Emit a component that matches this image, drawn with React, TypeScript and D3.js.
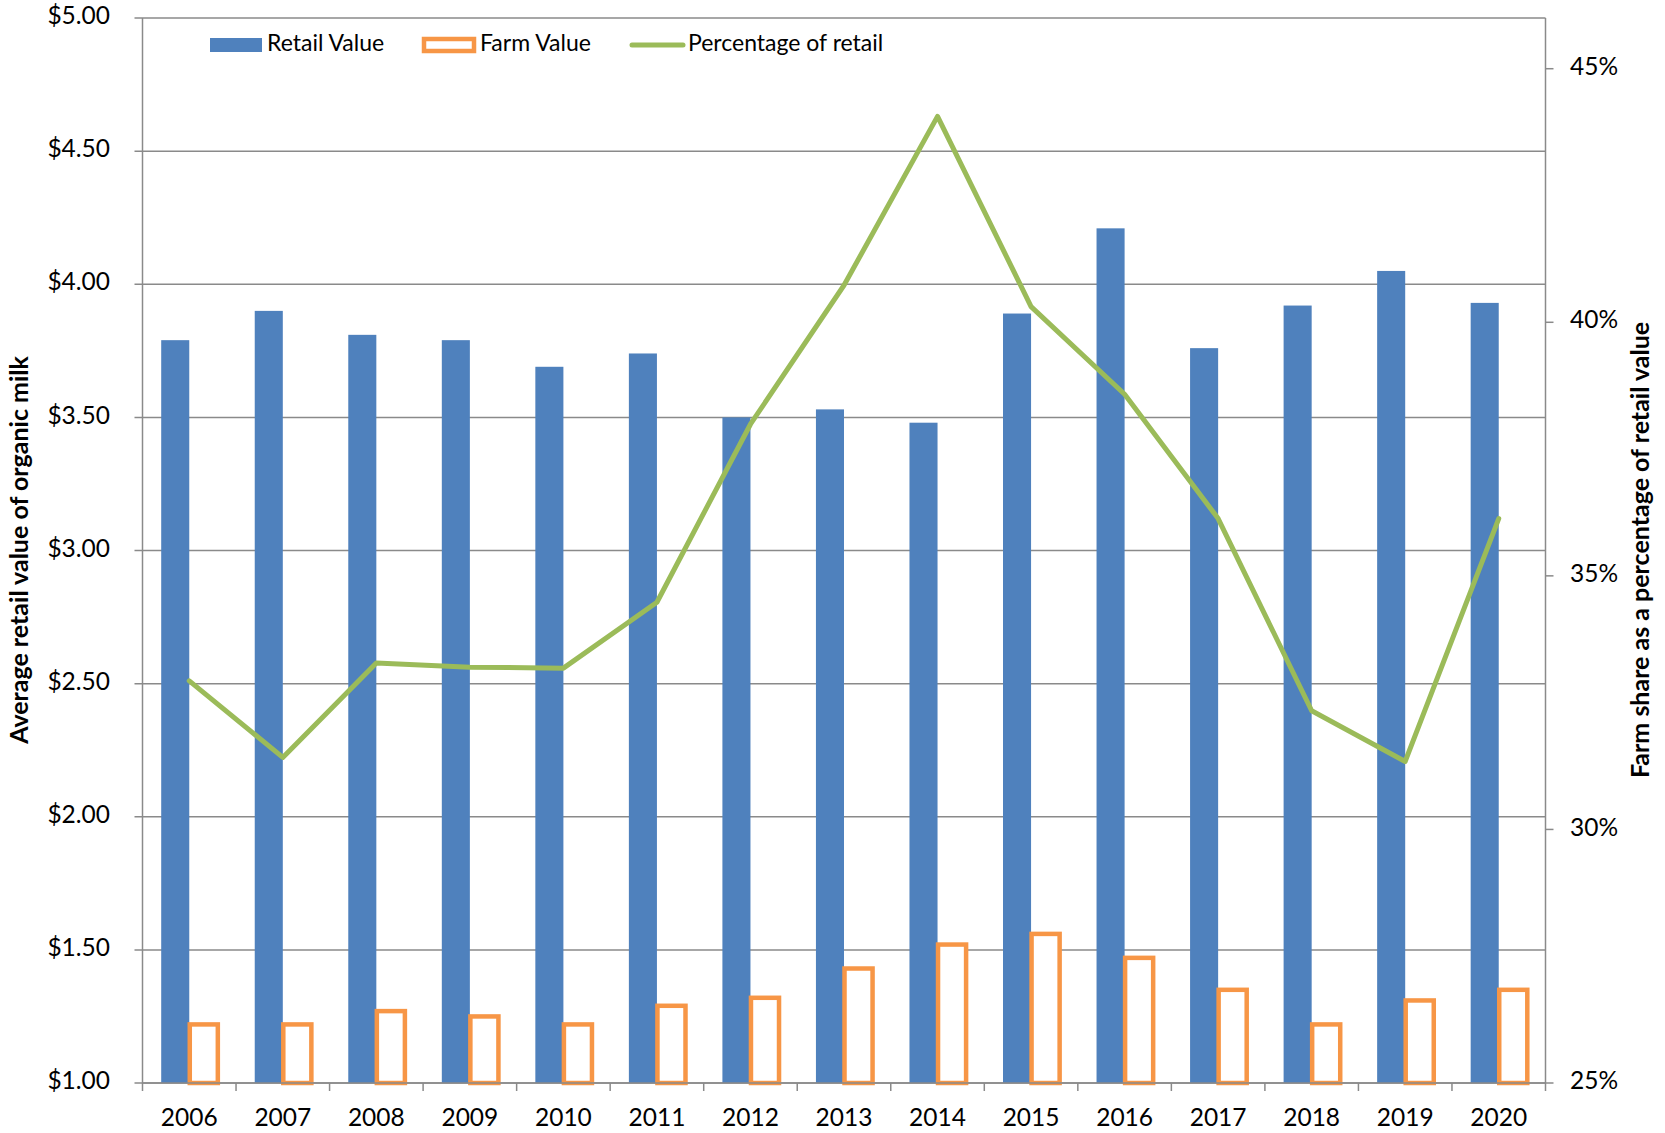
import React from "react";
import * as d3 from "d3";

const years = ["2006","2007","2008","2009","2010","2011","2012","2013","2014","2015","2016","2017","2018","2019","2020"];
const retailValue = [3.79,3.90,3.81,3.79,3.69,3.74,3.50,3.53,3.48,3.89,4.21,3.76,3.92,4.05,3.93];
const farmValue = [1.22,1.22,1.27,1.25,1.22,1.29,1.32,1.43,1.52,1.56,1.47,1.35,1.22,1.31,1.35];
const pctOfRetail = [32.93,31.42,33.28,33.2,33.18,34.48,37.99,40.73,44.06,40.31,38.58,36.13,32.34,31.34,36.13];
const leftTicks = [1,1.5,2,2.5,3,3.5,4,4.5,5];
const rightTicks = [25,30,35,40,45];

const W = 1665, H = 1133;
const M = { left: 142.5, right: 1545.5, top: 18, bottom: 1083 };
const BLUE = "#4F81BD", ORANGE = "#F79646", GREEN = "#9BBB59", GRID = "#8A8A8A";
const FONT = "Lato, 'Open Sans', sans-serif";

export default function App() {
  const x = d3.scaleBand<string>().domain(years).range([M.left, M.right]).padding(0);
  const yL = d3.scaleLinear().domain([1, 5]).range([M.bottom, M.top]);
  const yR = d3.scaleLinear().domain([25, 46]).range([M.bottom, M.top]);
  const barW = x.bandwidth() * 0.3;
  const cx = (y: string) => (x(y) as number) + x.bandwidth() / 2;
  const line = d3.line<number>().x((_, i) => cx(years[i])).y(d => yR(d));
  const money = d3.format("$.2f");

  return (
    <svg width={W} height={H} style={{ position: "absolute", left: 0, top: 0, background: "#fff" }} fontFamily={FONT}>
      {leftTicks.map(t => (
        <line key={"g" + t} x1={M.left - 8} x2={M.right} y1={yL(t)} y2={yL(t)} stroke={GRID} strokeWidth={1.5} />
      ))}
      {leftTicks.map(t => (
        <text key={"l" + t} x={110} y={yL(t)} textAnchor="end" dominantBaseline="middle" fontSize={24.5} fill="#000">{money(t)}</text>
      ))}
      {years.map((yr, i) => (
        <rect key={"b" + yr} x={cx(yr) - barW} y={yL(retailValue[i])} width={barW} height={yL(1) - yL(retailValue[i])} fill={BLUE} />
      ))}
      {years.map((yr, i) => (
        <rect key={"f" + yr} x={cx(yr) + 0.5} y={yL(farmValue[i])} width={barW} height={yL(1) - yL(farmValue[i])} fill="#fff" stroke={ORANGE} strokeWidth={4.5} />
      ))}
      <line x1={M.left} x2={M.left} y1={M.top} y2={M.bottom} stroke={GRID} strokeWidth={1.5} />
      <line x1={M.right} x2={M.right} y1={M.top} y2={M.bottom + 8} stroke={GRID} strokeWidth={1.5} />
      <line x1={M.left} x2={M.right} y1={M.bottom} y2={M.bottom} stroke={GRID} strokeWidth={1.5} />
      {years.map(yr => (
        <line key={"xt" + yr} x1={x(yr) as number} x2={x(yr) as number} y1={M.bottom} y2={M.bottom + 8} stroke={GRID} strokeWidth={1.5} />
      ))}
      {years.map(yr => (
        <text key={"xl" + yr} x={cx(yr)} y={1120} textAnchor="middle" dominantBaseline="middle" fontSize={24.5} fill="#000">{yr}</text>
      ))}
      {rightTicks.map(t => (
        <g key={"r" + t}>
          <line x1={M.right} x2={M.right + 8} y1={yR(t)} y2={yR(t)} stroke={GRID} strokeWidth={1.5} />
          <text x={1570} y={yR(t)} dominantBaseline="middle" fontSize={24.5} fill="#000">{t + "%"}</text>
        </g>
      ))}
      <path d={line(pctOfRetail) || ""} fill="none" stroke={GREEN} strokeWidth={5} strokeLinejoin="round" strokeLinecap="round" />
      <text transform={`translate(22,550) rotate(-90)`} textAnchor="middle" dominantBaseline="middle" fontSize={25} fontWeight="bold" fill="#000">Average retail value of organic milk</text>
      <text transform={`translate(1643,550) rotate(-90)`} textAnchor="middle" dominantBaseline="middle" fontSize={25} fontWeight="bold" fill="#000">Farm share as a percentage of retail value</text>
      <rect x={210} y={38} width={52} height={14} fill={BLUE} />
      <text x={267} y={45} dominantBaseline="middle" fontSize={23} fill="#000">Retail Value</text>
      <rect x={424} y={39} width={50} height={12} fill="#fff" stroke={ORANGE} strokeWidth={4.5} />
      <text x={480} y={45} dominantBaseline="middle" fontSize={23} fill="#000">Farm Value</text>
      <line x1={632} x2={683} y1={45} y2={45} stroke={GREEN} strokeWidth={5} strokeLinecap="round" />
      <text x={688} y={45} dominantBaseline="middle" fontSize={23} fill="#000">Percentage of retail</text>
    </svg>
  );
}
